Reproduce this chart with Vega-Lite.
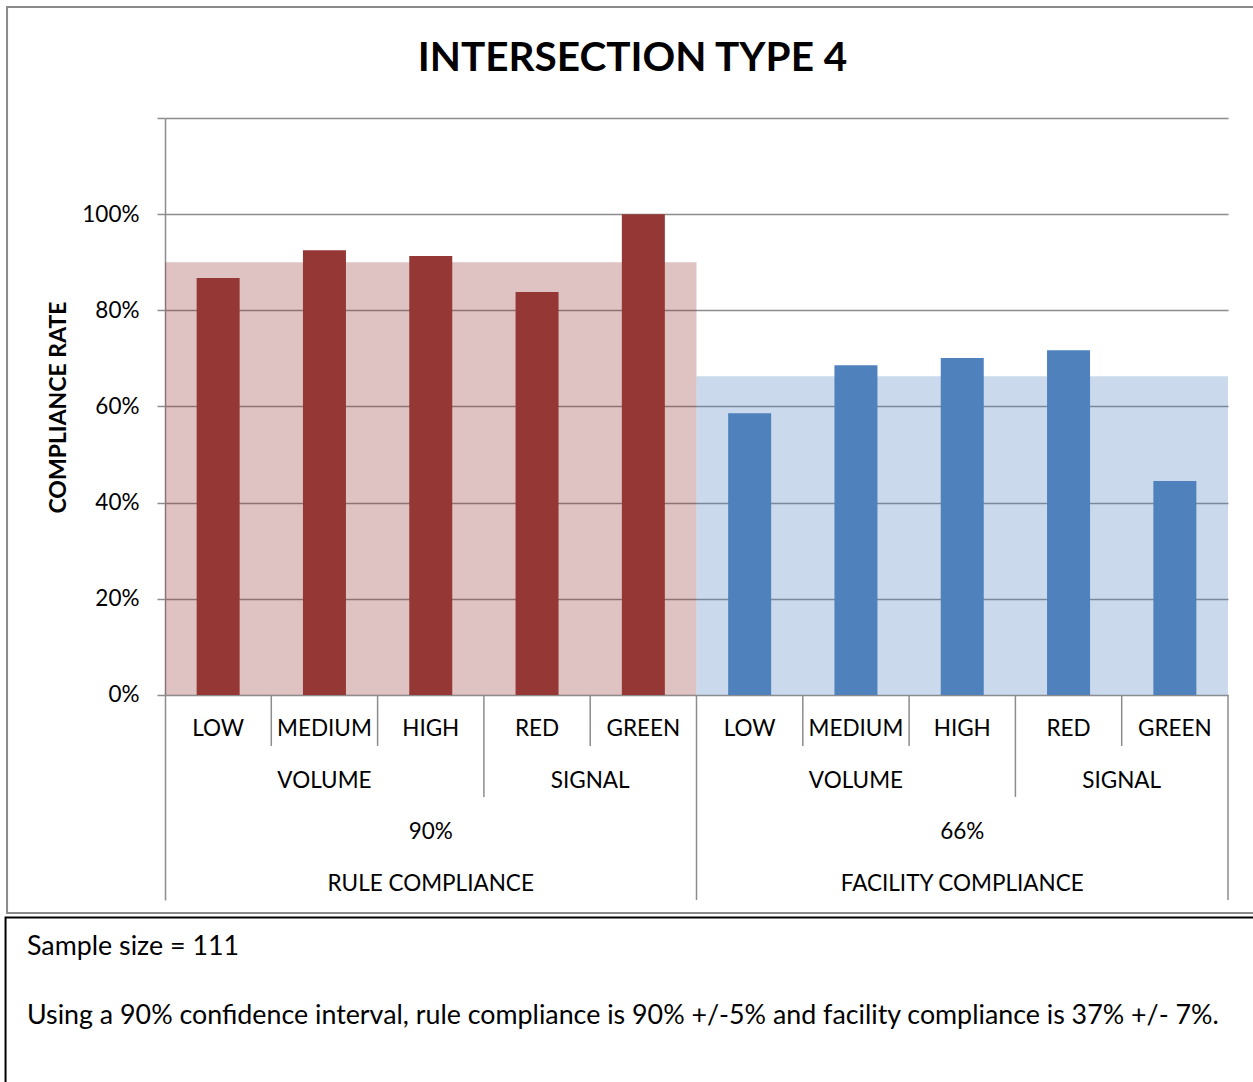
{
  "$schema": "https://vega.github.io/schema/vega-lite/v6.json",
  "width": 1063,
  "height": 782,
  "autosize": "none",
  "padding": {"left": 165, "top": 118, "right": 25, "bottom": 182},
  "background": "white",
  "config": {"view": {"stroke": null}, "font": "Lato"},
  "title": {
    "text": "INTERSECTION TYPE 4",
    "font": "Lato",
    "fontSize": 40.5,
    "fontWeight": "bold",
    "color": "black",
    "anchor": "middle",
    "baseline": "alphabetic",
    "dx": -64,
    "offset": -106
  },
  "datasets": {
    "bars": [
      {"group": "RULE COMPLIANCE", "sub": "VOLUME", "cat": "LOW", "idx": 0.5, "rate": 86.7},
      {"group": "RULE COMPLIANCE", "sub": "VOLUME", "cat": "MEDIUM", "idx": 1.5, "rate": 92.5},
      {"group": "RULE COMPLIANCE", "sub": "VOLUME", "cat": "HIGH", "idx": 2.5, "rate": 91.3},
      {"group": "RULE COMPLIANCE", "sub": "SIGNAL", "cat": "RED", "idx": 3.5, "rate": 83.8},
      {"group": "RULE COMPLIANCE", "sub": "SIGNAL", "cat": "GREEN", "idx": 4.5, "rate": 100},
      {"group": "FACILITY COMPLIANCE", "sub": "VOLUME", "cat": "LOW", "idx": 5.5, "rate": 58.6},
      {"group": "FACILITY COMPLIANCE", "sub": "VOLUME", "cat": "MEDIUM", "idx": 6.5, "rate": 68.6},
      {"group": "FACILITY COMPLIANCE", "sub": "VOLUME", "cat": "HIGH", "idx": 7.5, "rate": 70.1},
      {"group": "FACILITY COMPLIANCE", "sub": "SIGNAL", "cat": "RED", "idx": 8.5, "rate": 71.7},
      {"group": "FACILITY COMPLIANCE", "sub": "SIGNAL", "cat": "GREEN", "idx": 9.5, "rate": 44.5}
    ],
    "overall": [
      {"group": "RULE COMPLIANCE", "start": 0, "end": 5, "base": 0, "rate": 90},
      {"group": "FACILITY COMPLIANCE", "start": 5, "end": 10, "base": 0, "rate": 66.3}
    ],
    "dividers": [
      {"pos": 1, "top": 0, "depth": -10.6},
      {"pos": 2, "top": 0, "depth": -10.6},
      {"pos": 4, "top": 0, "depth": -10.6},
      {"pos": 6, "top": 0, "depth": -10.6},
      {"pos": 7, "top": 0, "depth": -10.6},
      {"pos": 9, "top": 0, "depth": -10.6},
      {"pos": 3, "top": 0, "depth": -21.2},
      {"pos": 8, "top": 0, "depth": -21.2},
      {"pos": 5, "top": 0, "depth": -42.64},
      {"pos": 10, "top": 0, "depth": -42.64}
    ],
    "labels": [
      {"label": "LOW", "pos": 0.5, "level": -7.07},
      {"label": "MEDIUM", "pos": 1.5, "level": -7.07},
      {"label": "HIGH", "pos": 2.5, "level": -7.07},
      {"label": "RED", "pos": 3.5, "level": -7.07},
      {"label": "GREEN", "pos": 4.5, "level": -7.07},
      {"label": "LOW", "pos": 5.5, "level": -7.07},
      {"label": "MEDIUM", "pos": 6.5, "level": -7.07},
      {"label": "HIGH", "pos": 7.5, "level": -7.07},
      {"label": "RED", "pos": 8.5, "level": -7.07},
      {"label": "GREEN", "pos": 9.5, "level": -7.07},
      {"label": "VOLUME", "pos": 1.5, "level": -17.9},
      {"label": "SIGNAL", "pos": 4, "level": -17.9},
      {"label": "VOLUME", "pos": 6.5, "level": -17.9},
      {"label": "SIGNAL", "pos": 9, "level": -17.9},
      {"label": "90%", "pos": 2.5, "level": -28.5},
      {"label": "66%", "pos": 7.5, "level": -28.5},
      {"label": "RULE COMPLIANCE", "pos": 2.5, "level": -39.3},
      {"label": "FACILITY COMPLIANCE", "pos": 7.5, "level": -39.3}
    ],
    "notes": [
      {"note": "Sample size = 111", "left": -1.298, "line": -54.1},
      {"note": "Using a 90% confidence interval, rule compliance is 90% +/-5% and facility compliance is 37% +/- 7%.", "left": -1.298, "line": -68.4}
    ],
    "chartframe": [
      {"x1": -1.486, "x2": 10.26, "y1": 143.1, "y2": -45.34}
    ],
    "notebox": [
      {"x1": -1.5, "x2": 10.26, "y1": -46.3, "y2": -81.2}
    ]
  },
  "layer": [
    {
      "data": {"name": "chartframe"},
      "mark": {"type": "rect", "fillOpacity": 0, "stroke": "#8a8a8a", "strokeWidth": 2, "clip": false},
      "encoding": {
        "x": {"field": "x1", "type": "quantitative", "scale": {"domain": [0, 10], "nice": false, "zero": false, "padding": 0}, "axis": null},
        "x2": {"field": "x2"},
        "y": {"field": "y1", "type": "quantitative"},
        "y2": {"field": "y2"}
      }
    },
    {
      "data": {"name": "notebox"},
      "mark": {"type": "rect", "fillOpacity": 0, "stroke": "black", "strokeWidth": 2, "clip": false},
      "encoding": {
        "x": {"field": "x1", "type": "quantitative"},
        "x2": {"field": "x2"},
        "y": {"field": "y1", "type": "quantitative"},
        "y2": {"field": "y2"}
      }
    },
    {
      "data": {"name": "overall"},
      "mark": {"type": "rect", "opacity": 0.3},
      "encoding": {
        "x": {"field": "start", "type": "quantitative", "scale": {"domain": [0, 10], "nice": false, "zero": false, "padding": 0}},
        "x2": {"field": "end"},
        "y": {
          "field": "rate",
          "type": "quantitative",
          "scale": {"domain": [-42.64, 120], "nice": false, "zero": false, "padding": 0},
          "axis": {
            "values": [0, 20, 40, 60, 80, 100, 120],
            "labelExpr": "datum.value >= 120 ? '' : datum.value + '%'",
            "grid": true,
            "gridColor": "#8c8c8c",
            "gridWidth": 1.5,
            "domainColor": "#8c8c8c",
            "domainWidth": 1.5,
            "tickColor": "#8c8c8c",
            "tickWidth": 1.5,
            "tickSize": 8,
            "labelPadding": 18,
            "labelFont": "Lato",
            "labelFontSize": 22.5,
            "labelColor": "black",
            "title": "COMPLIANCE RATE",
            "titleFont": "Lato",
            "titleFontSize": 23,
            "titleFontWeight": "bold",
            "titleColor": "black",
            "titleAngle": -90,
            "titleBaseline": "middle",
            "titleX": -107,
            "titleY": 289
          }
        },
        "y2": {"field": "base"},
        "color": {
          "field": "group",
          "type": "nominal",
          "scale": {"domain": ["RULE COMPLIANCE", "FACILITY COMPLIANCE"], "range": ["#953735", "#4F81BD"]},
          "legend": null
        }
      }
    },
    {
      "data": {"name": "bars"},
      "mark": {"type": "bar", "width": 43},
      "encoding": {
        "x": {"field": "idx", "type": "quantitative"},
        "y": {"field": "rate", "type": "quantitative"},
        "color": {"field": "group", "type": "nominal", "legend": null}
      }
    },
    {
      "data": {"name": "dividers"},
      "mark": {"type": "rule", "color": "#8c8c8c", "strokeWidth": 1.5, "clip": false},
      "encoding": {
        "x": {"field": "pos", "type": "quantitative"},
        "y": {"field": "top", "type": "quantitative"},
        "y2": {"field": "depth"}
      }
    },
    {
      "data": {"name": "labels"},
      "mark": {"type": "text", "font": "Lato", "fontSize": 22.5, "color": "black", "baseline": "middle", "align": "center"},
      "encoding": {
        "x": {"field": "pos", "type": "quantitative"},
        "y": {"field": "level", "type": "quantitative"},
        "text": {"field": "label", "type": "nominal"}
      }
    },
    {
      "data": {"name": "notes"},
      "mark": {"type": "text", "font": "Lato", "fontSize": 26.8, "color": "black", "baseline": "alphabetic", "align": "left", "clip": false},
      "encoding": {
        "x": {"field": "left", "type": "quantitative"},
        "y": {"field": "line", "type": "quantitative"},
        "text": {"field": "note", "type": "nominal"}
      }
    }
  ]
}
